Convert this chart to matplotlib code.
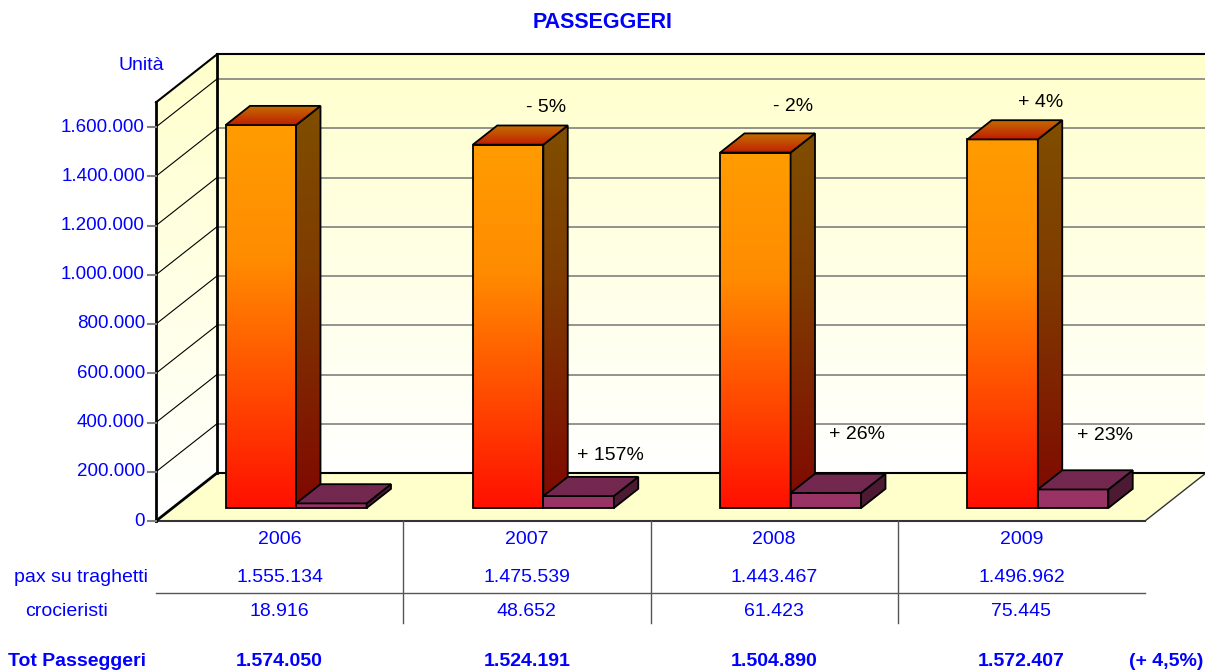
import numpy as np
import matplotlib
matplotlib.use('Agg')
import matplotlib.pyplot as plt
from matplotlib.patches import Polygon
from matplotlib.colors import to_rgb

plt.rcParams['font.family'] = ['Liberation Sans', 'DejaVu Sans']

# data
years = ['2006', '2007', '2008', '2009']
traghetti = [1555134, 1475539, 1443467, 1496962]
crocieristi = [18916, 48652, 61423, 75445]
totale = [1574050, 1524191, 1504890, 1572407]
var_traghetti = ['', '- 5%', '- 2%', '+ 4%']
var_traghetti_y = [0, 1680000, 1685000, 1700000]
var_crocieristi = ['', '+ 157%', '+ 26%', '+ 23%']
var_crocieristi_y = [0, 268000, 353000, 349000]
var_totale = '(+ 4,5%)'
yticks = np.arange(0, 1600001, 200000)
ymax = 1700000

# layout (pixels of the 1205x672 picture)
W, H = 1205, 672
X0, Y0 = 156, 521
SX = 247.25          # px per category
SY = 246.25e-6       # px per unit
DX = 61 / SX         # depth offset in data units
DY = 48 / SY
BLUE = '#0000FF'


def py(px):
    # pixel row -> data y
    return (Y0 - px) / SY


def px_x(px):
    return (px - X0) / SX


def fmt(v):
    return f'{v:,}'.replace(',', '.')


zc = [1.0]


def nextz():
    zc[0] += 0.01
    return zc[0]


def grad_poly(ax, verts, stops, edge='black', lw=1.3):
    verts = np.asarray(verts, dtype=float)
    z = nextz()
    poly = Polygon(verts, closed=True, facecolor='none', edgecolor=edge,
                   lw=lw, zorder=z + 0.005, joinstyle='miter')
    ax.add_patch(poly)
    x0, x1 = verts[:, 0].min(), verts[:, 0].max()
    y0, y1 = verts[:, 1].min(), verts[:, 1].max()
    t = np.linspace(0, 1, 128)
    pos = [s[0] for s in stops]
    cols = np.array([to_rgb(s[1]) for s in stops])
    img = np.stack([np.interp(t, pos, cols[:, k]) for k in range(3)], axis=-1)
    img = img[:, None, :]
    im = ax.imshow(img, extent=(x0, x1, y0, y1), aspect='auto', origin='upper',
                   zorder=z, interpolation='bilinear')
    im.set_clip_path(poly)


def bar3d(ax, x_left, width, value, front, side, top):
    d0, d1 = 0.27, 0.40
    bx, by = x_left + d0 * DX, d0 * DY
    ox, oy = d1 * DX, d1 * DY
    grad_poly(ax, [(bx, by), (bx + width, by), (bx + width, by + value), (bx, by + value)], front)
    grad_poly(ax, [(bx + width, by), (bx + width + ox, by + oy),
                   (bx + width + ox, by + oy + value), (bx + width, by + value)], side)
    grad_poly(ax, [(bx, by + value), (bx + width, by + value),
                   (bx + width + ox, by + value + oy), (bx + ox, by + value + oy)], top)


fig = plt.figure(figsize=(W / 100, H / 100), dpi=100)
ax = fig.add_axes([0, 0, 1, 1])
ax.set_axis_off()

n = len(years)

# walls
wall = [(0, '#FFFFCC'), (1, '#FFFFFF')]
grad_poly(ax, [(DX, DY), (n + DX, DY), (n + DX, DY + ymax), (DX, DY + ymax)], wall, edge='none')
grad_poly(ax, [(0, 0), (DX, DY), (DX, DY + ymax), (0, ymax)], wall, edge='none')

# gridlines on back wall and left wall
for v in yticks[1:]:
    ax.plot([DX, n + DX], [DY + v, DY + v], color='#808080', lw=1.2, zorder=nextz())
    ax.plot([0, DX], [v, DY + v], color='black', lw=0.8, zorder=nextz())

# floor
floor = Polygon([(0, 0), (n, 0), (n + DX, DY), (DX, DY)], closed=True,
                facecolor='#FFFFCC', edgecolor='none', zorder=nextz())
ax.add_patch(floor)
ax.plot([DX, n + DX], [DY, DY], color='black', lw=1.5, zorder=nextz())
ax.plot([n, n + DX], [0, DY], color='#333333', lw=1, zorder=nextz())
ax.plot([0, n], [0, 0], color='#333333', lw=1.5, zorder=nextz())

# wall edges
z = nextz()
ax.plot([0, 0], [0, ymax], color='black', lw=2, zorder=z, solid_capstyle='projecting')
ax.plot([0, DX], [ymax, DY + ymax], color='black', lw=1.5, zorder=z)
ax.plot([DX, DX], [DY, DY + ymax], color='black', lw=2, zorder=z)
ax.plot([DX, n + DX], [DY + ymax, DY + ymax], color='black', lw=1.5, zorder=z)
ax.plot([0, DX], [0, DY], color='black', lw=2, zorder=z)

# bars
bw = 70.5 / SX
orange_front = [(0, '#FF9C00'), (0.35, '#FF8C00'), (1, '#FF1000')]
orange_side = [(0, '#7F4E00'), (0.4, '#7F3C00'), (1, '#7F0800')]
orange_top = [(0, '#C47000'), (1, '#C01E00')]
purple_front = [(0, '#993366'), (1, '#993366')]
purple_side = [(0, '#4D1A33'), (1, '#4D1A33')]
purple_top = [(0, '#732850'), (1, '#732850')]
for i in range(n):
    c = i + 0.5
    bar3d(ax, c - bw, bw, traghetti[i], orange_front, orange_side, orange_top)
    bar3d(ax, c, bw, crocieristi[i], purple_front, purple_side, purple_top)

# variation labels
for i in range(n):
    c = i + 0.5 + 0.27 * DX
    if var_traghetti[i]:
        ax.text(c + 0.01, var_traghetti_y[i], var_traghetti[i],
                ha='center', va='center', fontsize=14, color='black', zorder=nextz())
    if var_crocieristi[i]:
        ax.text(c + 0.27, var_crocieristi_y[i], var_crocieristi[i],
                ha='center', va='center', fontsize=14, color='black', zorder=nextz())

# y axis ticks and labels
for v in yticks:
    ax.plot([px_x(148), 0], [v, v], color='#808080', lw=1.5, zorder=nextz())
    ax.text(px_x(145), v, fmt(int(v)), ha='right', va='center', fontsize=13.5, color=BLUE)
ax.text(px_x(141), py(65), 'Unità', ha='center', va='center', fontsize=14, color=BLUE)

# title
ax.text(px_x(603), py(23), 'PASSEGGERI', ha='center', va='center', fontsize=15.5,
        fontweight='bold', color=BLUE)

# data table
for k in range(1, n):
    ax.plot([k, k], [0, py(623)], color='#555555', lw=1, zorder=nextz())
ax.plot([0, n], [py(593), py(593)], color='#555555', lw=1, zorder=nextz())
for i in range(n):
    c = i + 0.5
    ax.text(c, py(540), years[i], ha='center', va='center', fontsize=14, color=BLUE)
    ax.text(c, py(577), fmt(traghetti[i]), ha='center', va='center', fontsize=14, color=BLUE)
    ax.text(c, py(611), fmt(crocieristi[i]), ha='center', va='center', fontsize=14, color=BLUE)
    ax.text(c, py(662), fmt(totale[i]), ha='center', va='center', fontsize=14,
            fontweight='bold', color=BLUE)
ax.text(px_x(81), py(577), 'pax su traghetti', ha='center', va='center', fontsize=14, color=BLUE)
ax.text(px_x(67), py(611), 'crocieristi', ha='center', va='center', fontsize=14, color=BLUE)
ax.text(px_x(8), py(662), 'Tot Passeggeri', ha='left', va='center', fontsize=14,
        fontweight='bold', color=BLUE)
ax.text(px_x(1166), py(662), var_totale, ha='center', va='center', fontsize=14,
        fontweight='bold', color=BLUE)

ax.set_xlim(-X0 / SX, (W - X0) / SX)
ax.set_ylim((Y0 - H) / SY, Y0 / SY)

fig.savefig('out.png', dpi=100, facecolor='white')
